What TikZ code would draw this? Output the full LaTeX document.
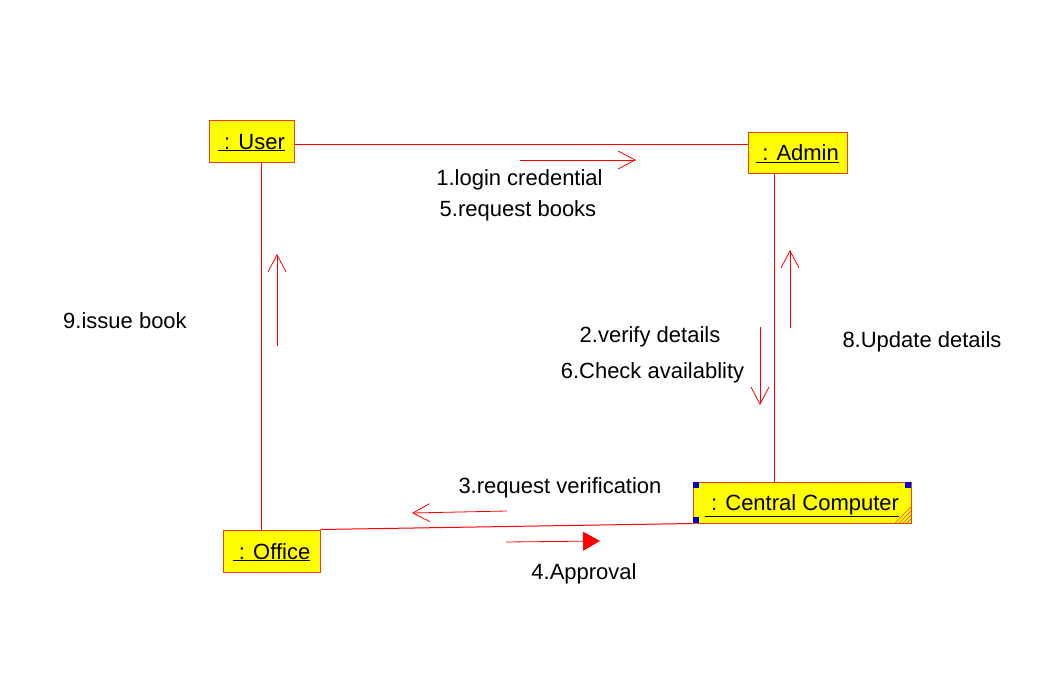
\documentclass[tikz,border=0pt]{standalone}
\usepackage{fontspec}
\setmainfont{Liberation Sans}
\usetikzlibrary{arrows.meta}
\definecolor{boxfill}{RGB}{255,255,0}
\definecolor{umlred}{RGB}{255,0,0}
\definecolor{boxline}{RGB}{240,60,40}
\definecolor{handle}{RGB}{0,0,210}
\begin{document}
\begin{tikzpicture}[x=1pt,y=-1pt,
  font=\fontsize{22}{26}\selectfont,
  obj/.style={draw=boxline, fill=boxfill, line width=1pt, inner sep=0pt, text height=18pt, text depth=2pt},
  link/.style={draw=umlred, line width=1pt},
  msg/.style={draw=umlred, line width=0.8pt, -{Straight Barb[length=17pt,width=18pt]}},
  msgfill/.style={draw=umlred, line width=0.8pt, -{Triangle[length=17pt,width=19pt]}},
  lbl/.style={anchor=base, inner sep=0pt}]
\useasboundingbox (0,0) rectangle (1057,696);
% objects
\node[obj, minimum width=85pt, minimum height=42pt] (user) at (251.5,141) {\underline{\ : User}};
\node[obj, minimum width=99pt, minimum height=41pt] (admin) at (797.5,152.5) {\underline{\ : Admin}};
\node[obj, minimum width=218pt, minimum height=41pt] (computer) at (802,502.5) {\underline{\ : Central Computer}};
\node[obj, minimum width=97pt, minimum height=42pt] (office) at (271.5,551) {\underline{\ : Office}};
% handles and hatch on the computer box
\fill[handle] (693,482) rectangle (699,488);
\fill[handle] (905,482) rectangle (911,488);
\fill[handle] (693,517) rectangle (699,523);
\foreach \k in {4,8,12,16}
  \draw[boxline, line width=0.6pt] (911-\k,523) -- (911,523-\k);
% links
\coordinate (ua) at ([yshift=-3pt]user.east);
\draw[link] (ua) -- (ua -| admin.west);
\coordinate (uo) at ([xshift=9.5pt]user.south);
\draw[link] (uo) -- (uo |- office.north);
\coordinate (ac) at ([xshift=-23.5pt]admin.south);
\draw[link] (ac) -- (ac |- computer.north);
\draw[link] (office.north east) -- (computer.south west);
% messages
\coordinate (m1s) at (520,160); \coordinate (m1e) at (636,160);
\draw[msg] (m1s) -- (m1e);
\coordinate (m9s) at (277,346); \coordinate (m9e) at (277,254);
\draw[msg] (m9s) -- (m9e);
\coordinate (m2s) at (760,327); \coordinate (m2e) at (760,405);
\draw[msg] (m2s) -- (m2e);
\coordinate (m8s) at (790,328); \coordinate (m8e) at (790,250);
\draw[msg] (m8s) -- (m8e);
\coordinate (m3s) at (507,511); \coordinate (m3e) at (412,513);
\draw[msg] (m3s) -- (m3e);
\coordinate (m4s) at (506,542); \coordinate (m4e) at (600,541);
\draw[msgfill] (m4s) -- (m4e);
% labels
\node[lbl] (l1) at (519.5,185) {1.login credential};
\node[lbl] (l5) at (518,216) {5.request books};
\node[lbl] (l9) at (125,328) {9.issue book};
\node[lbl] (l2) at (650,342) {2.verify details};
\node[lbl] (l6) at (652.5,378) {6.Check availablity};
\node[lbl] (l8) at (922,347) {8.Update details};
\node[lbl] (l3) at (560,493) {3.request verification};
\node[lbl] (l4) at (584,579) {4.Approval};
\end{tikzpicture}
\end{document}
